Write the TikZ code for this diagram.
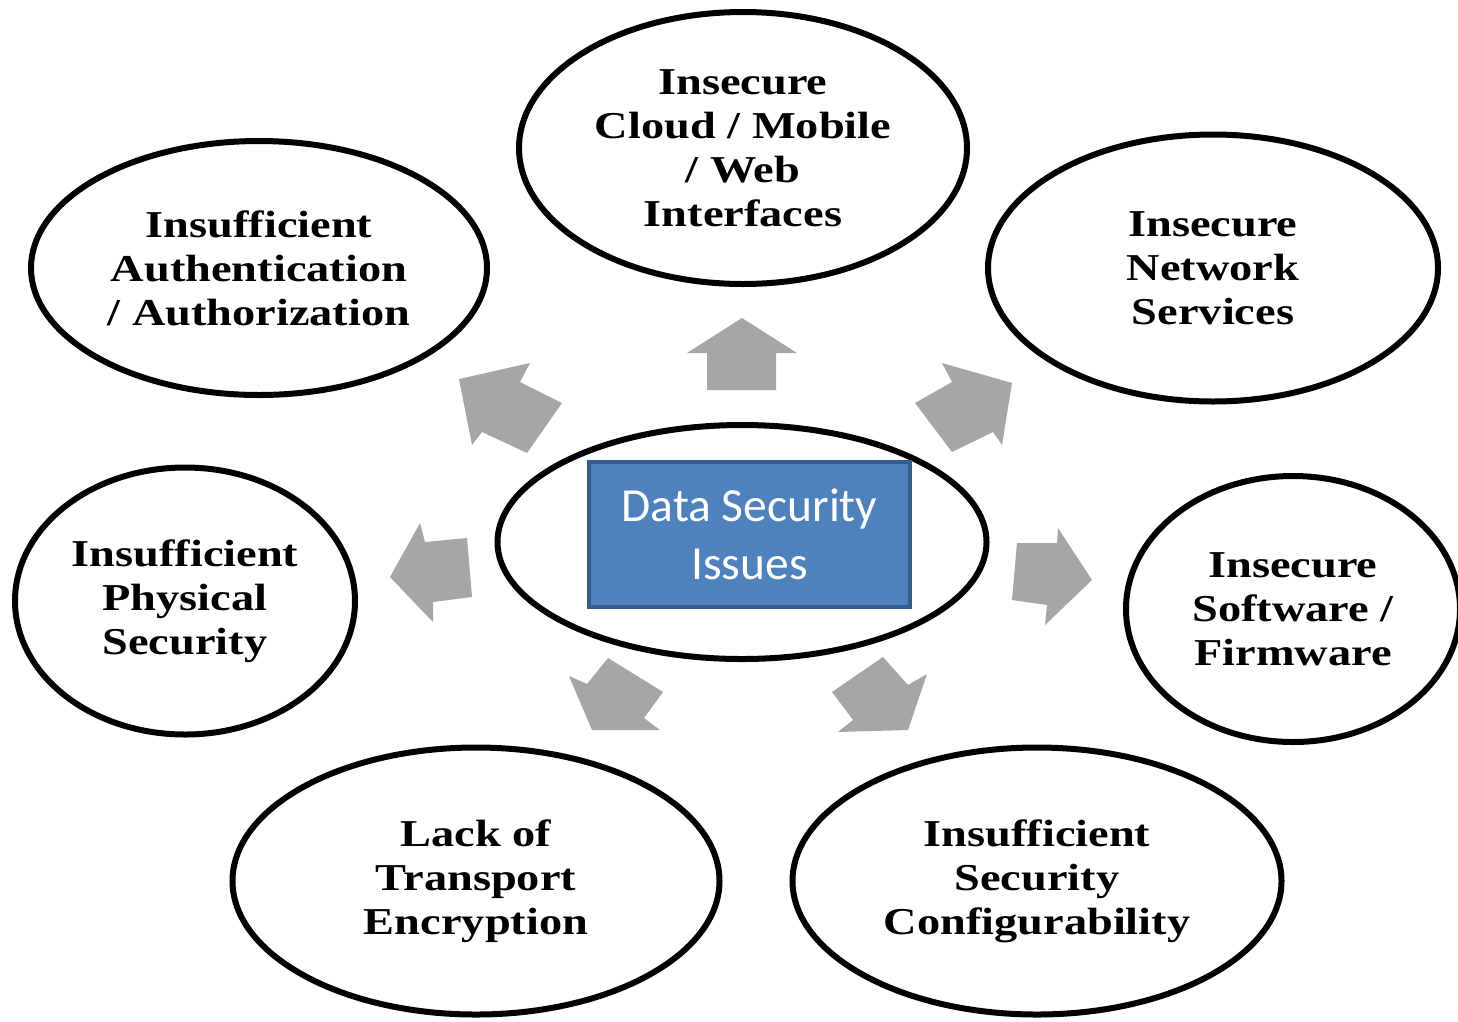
\documentclass[tikz,border=0pt]{standalone}
\usepackage{fontspec}
\usetikzlibrary{shapes.geometric}
\newfontfamily\labelfont[FakeStretch=1.22]{Liberation Serif}
\newfontfamily\boxfont{Carlito}
\definecolor{arrowgray}{HTML}{A6A6A6}
\definecolor{boxfill}{HTML}{4F81BD}
\definecolor{boxline}{HTML}{385D8A}

\begin{document}
\begin{tikzpicture}[x=1pt,y=-1pt,
  issue/.style={ellipse, draw=black, line width=6pt, inner sep=0pt, align=center,
    font=\labelfont\bfseries\fontsize{38}{44}\selectfont},
  hub/.style={ellipse, draw=black, line width=6pt, inner sep=0pt},
  titlebox/.style={rectangle, fill=boxfill, draw=boxline, line width=4pt,
    text=white, align=center, inner sep=0pt,
    font=\boxfont\fontsize{47.5}{58}\selectfont},
  blockarrow/.style={fill=arrowgray, draw=none}]

\useasboundingbox (0,0) rectangle (1458,1021);
\fill[white] (0,0) rectangle (1458,1021);
\clip (0,0) rectangle (1458,1021);

% central hub with its title
\node[hub, minimum width=489pt, minimum height=234pt] (hub) at (742,542) {};
\node[titlebox, minimum width=321pt, minimum height=145pt] (title) at (749.5,534.5)
  {Data Security\\Issues};

% surrounding issues
\node[issue, minimum width=448pt, minimum height=272pt] (cloud) at (743,148)
  {Insecure\\Cloud / Mobile\\/ Web\\Interfaces};
\node[issue, minimum width=456pt, minimum height=254pt] (auth) at (259,268)
  {Insufficient\\Authentication\\/ Authorization};
\node[issue, minimum width=450pt, minimum height=267pt] (network) at (1213,268)
  {Insecure\\Network\\Services};
\node[issue, minimum width=340pt, minimum height=267pt] (physical) at (185,601)
  {Insufficient\\Physical\\Security};
\node[issue, minimum width=334pt, minimum height=266pt] (software) at (1293,609)
  {Insecure\\Software /\\Firmware};
\node[issue, minimum width=487pt, minimum height=267pt] (transport) at (476,881)
  {Lack of\\Transport\\Encryption};
\node[issue, minimum width=489pt, minimum height=267pt] (config) at (1037,881)
  {Insufficient\\Security\\Configurability};

% block arrows radiating from the hub
\fill[blockarrow] (742,318) -- (797,353) -- (776,353) -- (776,390)
  -- (707,390) -- (707,353) -- (687,353) -- cycle;
\fill[blockarrow] (459,379) -- (530,363) -- (520,382) -- (562,403)
  -- (527,453) -- (482,432) -- (472,445) -- cycle;
\fill[blockarrow] (1012,383) -- (1002,445) -- (993,432) -- (952,452)
  -- (915,403) -- (952,382) -- (942,363) -- cycle;
\fill[blockarrow] (390,577) -- (420,523) -- (425,542) -- (467,538)
  -- (472,597) -- (433,602) -- (433,622) -- cycle;
\fill[blockarrow] (1092,580) -- (1058,528) -- (1057,543) -- (1017,543)
  -- (1012,600) -- (1047,605) -- (1045,625) -- cycle;
\fill[blockarrow] (592,730) -- (660,730) -- (644,718) -- (663,692)
  -- (608,658) -- (587,684) -- (569,676) -- cycle;
\fill[blockarrow] (908,730) -- (838,732) -- (853,720) -- (832,692)
  -- (883,657) -- (908,685) -- (927,674) -- cycle;
\end{tikzpicture}
\end{document}
